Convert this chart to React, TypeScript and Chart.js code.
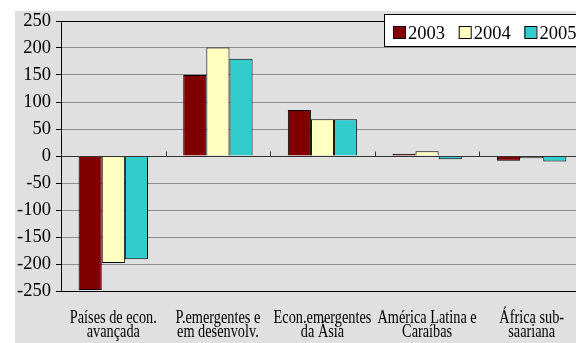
import React, { useEffect, useRef } from "react";
import { Chart, registerables } from "chart.js";

Chart.register(...registerables);

const categories: string[][] = [
  ["Países de econ.", "avançada"],
  ["P.emergentes e", "em desenvolv."],
  ["Econ.emergentes", "da Ásia"],
  ["América Latina e", "Caraíbas"],
  ["África sub-", "saariana"],
];

const years = ["2003", "2004", "2005"];
const values2003 = [-248, 150, 85, 4, -9];
const values2004 = [-198, 201, 68, 9, -4];
const values2005 = [-191, 180, 68, -6, -10];
const seriesColors = ["#800000", "#ffffc0", "#33cccc"];

const yTicks = [-250, -200, -150, -100, -50, 0, 50, 100, 150, 200, 250];

const FONT = "'Liberation Serif', 'Times New Roman', serif";
const CANVAS_W = 592;
const CANVAS_H = 343;

const backdrop = {
  id: "backdrop",
  beforeDraw(chart: any) {
    const { ctx } = chart;
    ctx.save();
    ctx.fillStyle = "#ffffff";
    ctx.fillRect(0, 0, chart.width, chart.height);
    ctx.fillStyle = "#e0e0e0";
    ctx.fillRect(15, 11, chart.width - 15, chart.height - 11);
    ctx.restore();
  },
};

const axisAndLegend = {
  id: "axisAndLegend",
  afterDatasetsDraw(chart: any) {
    const { ctx, chartArea, scales } = chart;
    const y0 = Math.round(scales.y.getPixelForValue(0)) + 0.5;
    ctx.save();
    ctx.strokeStyle = "#333333";
    ctx.lineWidth = 1;
    ctx.beginPath();
    ctx.moveTo(chartArea.left, y0);
    ctx.lineTo(chartArea.right, y0);
    const n = chart.data.labels.length;
    const w = (chartArea.right - chartArea.left) / n;
    for (let i = 1; i <= n; i++) {
      const x = Math.round(chartArea.left + i * w) + 0.5;
      ctx.moveTo(x, y0);
      ctx.lineTo(x, y0 - 5);
    }
    ctx.stroke();

    // category labels, drawn slightly tall
    ctx.fillStyle = "#000000";
    ctx.font = `14.3px ${FONT}`;
    ctx.textAlign = "center";
    ctx.textBaseline = "alphabetic";
    const baselines = [322.5, 337];
    chart.data.labels.forEach((lines: string[], i: number) => {
      const cx = scales.x.getPixelForValue(i);
      lines.forEach((line, j) => {
        ctx.save();
        ctx.translate(cx, baselines[j]);
        ctx.scale(1, 1.3);
        ctx.fillText(line, 0, 0);
        ctx.restore();
      });
    });
    ctx.restore();
  },
  afterDraw(chart: any) {
    const { ctx } = chart;
    ctx.save();
    const bx = 384.5;
    const by = 14.5;
    const bh = 32;
    ctx.fillStyle = "#ffffff";
    ctx.fillRect(bx, by, chart.width - bx, bh);
    ctx.strokeStyle = "#000000";
    ctx.lineWidth = 1;
    ctx.strokeRect(bx, by, chart.width - bx + 5, bh);
    ctx.font = `18.5px ${FONT}`;
    ctx.textBaseline = "alphabetic";
    ctx.textAlign = "left";
    chart.data.datasets.forEach((ds: any, i: number) => {
      const sx = 393 + i * 65.7;
      ctx.fillStyle = ds.backgroundColor;
      ctx.fillRect(sx, 26.5, 12, 12);
      ctx.strokeRect(sx + 0.5, 26.5, 12, 12);
      ctx.fillStyle = "#000000";
      ctx.fillText(ds.label, sx + 15, 38.5);
    });
    ctx.restore();
  },
};

export default function App() {
  const ref = useRef<HTMLCanvasElement | null>(null);

  useEffect(() => {
    document.body.style.margin = "0";
    const canvas = ref.current!;
    const chart = new Chart(canvas, {
      type: "bar",
      data: {
        labels: categories,
        datasets: [values2003, values2004, values2005].map((d, i) => ({
          label: years[i],
          data: d,
          backgroundColor: seriesColors[i],
          borderColor: "#000000",
          borderWidth: 1,
          barPercentage: 1,
          categoryPercentage: 0.663,
        })),
      },
      options: {
        responsive: false,
        animation: false,
        devicePixelRatio: 1,
        layout: { padding: { left: 0, top: 21, right: 8, bottom: 0 } },
        plugins: { legend: { display: false }, tooltip: { enabled: false } },
        scales: {
          x: {
            grid: { display: false },
            border: { display: false },
            ticks: { display: false },
            afterFit(scale: any) {
              scale.height = 52;
            },
          },
          y: {
            min: -250,
            max: 250,
            afterBuildTicks(scale: any) {
              scale.ticks = yTicks.map((v) => ({ value: v }));
            },
            grid: {
              color: (c: any) =>
                c.tick && Math.abs(c.tick.value) === 250 ? "#000000" : "#8c8c8c",
              tickColor: "#000000",
              tickLength: 5,
              drawTicks: true,
            },
            border: { display: true, color: "#000000", width: 1 },
            ticks: {
              color: "#000000",
              font: { family: FONT, size: 18.5 },
              padding: 5,
            },
            afterFit(scale: any) {
              scale.width = 61;
            },
          },
        },
      },
      plugins: [backdrop, axisAndLegend],
    });
    return () => chart.destroy();
  }, []);

  return (
    <div style={{ position: "absolute", left: 0, top: 0, width: 576, height: CANVAS_H, overflow: "hidden" }}>
      <canvas ref={ref} width={CANVAS_W} height={CANVAS_H} style={{ display: "block" }} />
    </div>
  );
}
